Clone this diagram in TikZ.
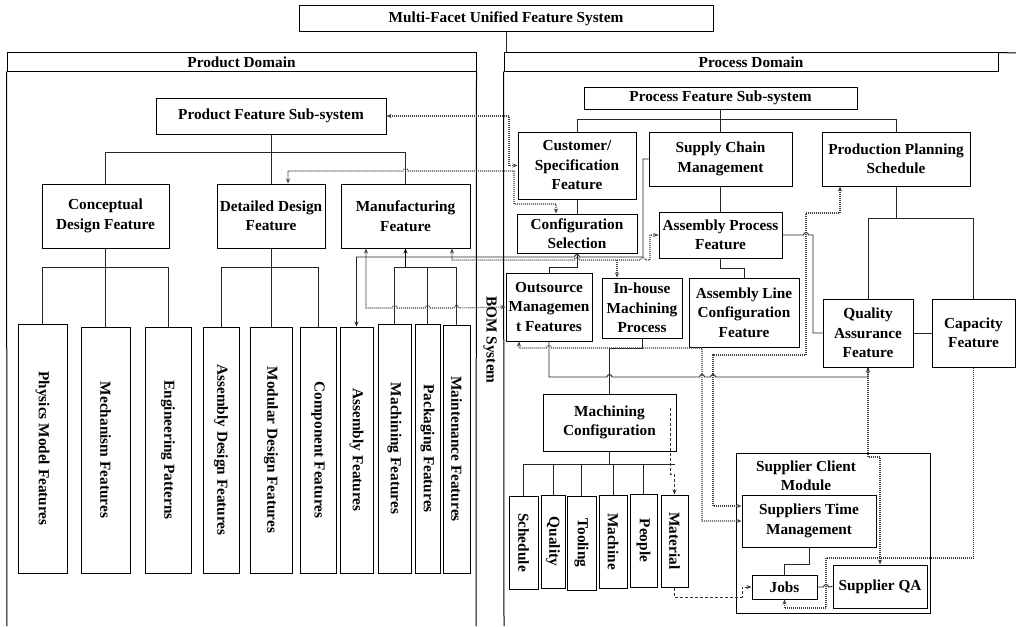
\documentclass[tikz,border=0pt]{standalone}
\usepackage{fontspec}
\setmainfont{Liberation Serif}
\usetikzlibrary{arrows.meta,calc}

% box by its corners: [style] name, x1, y1, x2, y2, text
\newcommand\bx[7][]{%
  \pgfmathsetmacro\bxcx{(#3+#5)/2}%
  \pgfmathsetmacro\bxcy{(#4+#6)/2}%
  \pgfmathsetmacro\bxw{#5-#3}%
  \pgfmathsetmacro\bxh{#6-#4}%
  \node[box,minimum width=\bxw pt,minimum height=\bxh pt,#1] (#2) at (\bxcx,\bxcy) {#7};}
% upright box with text running downwards: name, x1, y1, x2, y2, text
\newcommand\vbx[6]{%
  \pgfmathsetmacro\bxcx{(#2+#4)/2}%
  \pgfmathsetmacro\bxcy{(#3+#5)/2}%
  \pgfmathsetmacro\bxw{#4-#2}%
  \pgfmathsetmacro\bxh{#5-#3}%
  \node[box,rotate=-90,minimum width=\bxh pt,minimum height=\bxw pt] (#1) at (\bxcx,\bxcy) {#6};}
% line jumps over a crossing line
\newcommand\hopr[2]{-- ({#1-2.5},#2) arc[start angle=180,end angle=0,radius=2.5pt]}
\newcommand\hopl[2]{-- ({#1+2.5},#2) arc[start angle=0,end angle=180,radius=2.5pt]}

\begin{document}
\begin{tikzpicture}[x=1pt,y=-1pt,
  box/.style={draw=black,line width=1pt,align=center,inner sep=0pt,
    font=\bfseries\fontsize{15.3}{19.5}\selectfont,text=black},
  ln/.style={draw=black!85,line width=0.9pt},
  thk/.style={draw=black,line width=1.6pt},
  dl/.style={draw=black!75,line width=1.1pt,dash pattern=on 1pt off 1pt},
  dsh/.style={draw=black!80,line width=0.9pt,dash pattern=on 3pt off 2pt},
  >={Stealth[length=5pt,width=4pt]}]
\useasboundingbox (0,0) rectangle (1016,626);
\fill[white] (0,0) rectangle (1016,626);

% ---------- top level ----------
\bx{ttl}{299}{6}{713}{32}{Multi-Facet Unified Feature System}
\bx{pdh}{7}{53}{476}{71}{Product Domain}
\bx{prh}{504}{53}{998}{71}{Process Domain}
\draw[ln] (ttl.south) -- (ttl.south |- prh.north);
\draw[box] (prh.north east) -- (1016,53);
\draw[box] (pdh.south west) -- (7,626);
\draw[box] (pdh.south east) -- (476,626);
\draw[box] (prh.south west) -- (504,626);
\node[box,draw=none,rotate=-90] (bom) at (490,340) {BOM System};

% ---------- product domain ----------
\bx{pfs}{156}{98}{386}{134}{Product Feature Sub-system}
\bx{cdf}{42}{184}{169}{248}{Conceptual\\Design Feature}
\bx{ddf}{217}{184}{325}{248}{Detailed Design\\Feature}
\bx{mfg}{341}{184}{470}{248}{Manufacturing\\Feature}

\vbx{pmf}{18}{324}{67}{573}{Physics Model Features}
\vbx{mef}{81}{327}{130}{573}{Mechanism Features}
\vbx{enp}{145}{327}{191}{573}{Engineering Patterns}
\vbx{adf}{203}{327}{239}{573}{Assembly Design Features}
\vbx{mdf}{250}{327}{292}{573}{Modular Design Features}
\vbx{cmf}{300}{327}{336}{573}{Component Features}
\vbx{asf}{340}{327}{373}{573}{Assembly Features}
\vbx{maf}{378}{324}{411}{573}{Machining Features}
\vbx{pkf}{415}{324}{440}{573}{Packaging Features}
\vbx{mtf}{443}{325}{470}{573}{Maintenance Features}

\draw[ln] (pfs.south) -- ++(0,18) coordinate (pb);
\draw[ln] (cdf.north) |- (pb) -| (mfg.north);
\draw[ln] (ddf.north) -- (pb);

\draw[ln] (cdf.south) -- ++(0,19) coordinate (cb);
\draw[ln] (pmf.west) |- (cb) -| (enp.west);
\draw[ln] (mef.west) -- (mef.west |- cb);

\draw[ln] (ddf.south) -- ++(0,19) coordinate (db);
\draw[ln] (adf.west) |- (db) -| (cmf.west);
\draw[ln] (mdf.west) -- (mdf.west |- db);

\draw[thk,->] ($(mfg.south)+(0,19)$) coordinate (mb) -- (mfg.south);
\draw[ln] (maf.west) |- (mb) -| (mtf.west);
\draw[ln] (pkf.west) -- (pkf.west |- mb);

% ---------- process domain ----------
\bx{prfs}{584}{87}{857}{109}{Process Feature Sub-system}
\bx{csf}{518}{132}{636}{199}{Customer/\\Specification\\Feature}
\bx{scm}{649}{132}{792}{186}{Supply Chain\\Management}
\bx{pps}{822}{132}{970}{186}{Production Planning\\Schedule}
\bx{cfs}{517}{214}{637}{253}{Configuration\\Selection}
\bx{apf}{659}{212}{782}{258}{Assembly Process\\Feature}
\bx{omf}{506}{273}{592}{341}{Outsource\\Managemen\\t Features}
\bx{imp}{602}{278}{682}{338}{In-house\\Machining\\Process}
\bx{alc}{689}{278}{799}{347}{Assembly Line\\Configuration\\Feature}
\bx{qaf}{823}{299}{913}{367}{Quality\\Assurance\\Feature}
\bx{cpf}{932}{299}{1015}{367}{Capacity\\Feature}
\bx{mcf}{543}{394}{676}{451}{Machining\\Configuration}

\vbx{sch}{509}{496}{538}{589}{Schedule}
\vbx{qua}{541}{495}{565}{588}{Quality}
\vbx{too}{567}{496}{596}{590}{Tooling}
\vbx{mac}{599}{495}{627}{588}{Machine}
\vbx{peo}{630}{494}{657}{587}{People}
\vbx{mat}{661}{495}{688}{587}{Material}

\bx{scmod}{736}{453}{930}{613}{}
\node[box,draw=none] (scmt) at (806,476) {Supplier Client\\Module};
\bx{stm}{742}{495}{876}{547}{Suppliers Time\\Management}
\bx{job}{752}{575}{817}{599}{Jobs}
\bx{sqa}{833}{565}{927}{608}{Supplier QA}

% process tree
\draw[ln] (prfs.south) -- ++(0,10) coordinate (prb);
\draw[ln] (csf.north) |- (prb) -| (pps.north);
\draw[ln] (scm.north) -- (scm.north |- prb);
\draw[ln] (csf.south) -- (cfs.north);
\draw[ln] (scm.south) -- (apf.north);
\draw[ln] (cfs.south) -- (577,267) -| (omf.north);
\draw[ln] (apf.south) -- (720.5,268) -| (alc.north);
\draw[ln] (pps.south) -- (896,218);
\draw[ln] (qaf.north) |- (cpf.north |- 0,218) -- (cpf.north);
\draw[ln] (qaf.east) -- (cpf.west);
\draw[ln] (apf.east) \hopr{806}{235} -- (813,235) -- (813,333) -- (qaf.west);
\draw[ln,->] (omf.south) -- (549,377) \hopr{609.5}{377} \hopr{702}{377} \hopr{713}{377}
  -- (qaf.south |- 0,377) -- (qaf.south);
\draw[ln] (imp.south) -- (642,348) -- (609.5,348) -- (mcf.north);

% machining configuration tree
\draw[ln] (mcf.south) -- ++(0,13) coordinate (mcb);
\draw[ln] (sch.west) |- (674.5,464);
\foreach \c in {qua,too,mac,peo} \draw[ln] (\c.west) -- (\c.west |- mcb);
\draw[dsh,->] (670,408) -- (670,474) -| (mat.west);
\draw[dsh,->] (mat.east) -- (674.5,597) -- (742,597) -- (742,587) -- (job.west);

% supplier client module
\draw[ln] (stm.south) -- (809,564) -| (job.north);
\draw[ln] (job.east) \hopr{826}{587} -- (sqa.west);

% ---------- links between the domains ----------
\draw[ln,->] (scm.west) -- (643,159) -- (643,257) \hopl{577}{257} -- (asf.west |- 0,257) -- (asf.west);
\draw[dl,<->] (pfs.east) -- (509,116) |- (csf.west);
\draw[dl,<->] ([xshift=17pt]ddf.north) -- (288,171) \hopr{405.5}{171} -- (514,171) -- (514,204)
  -- (556,204) -- ([xshift=-21pt]cfs.north);
\draw[dl,<->] ([xshift=46.5pt]mfg.south) -- (452,260) \hopr{577}{260} \hopr{643}{260} -- (650,260)
  -- (650,235) -- (apf.west);
\draw[dl,->] (617,260) -- (imp.north -| 617,0);
\draw[dl,<->] ([xshift=-39.5pt]mfg.south) -- (366,308) \hopr{394.5}{308} \hopr{427.5}{308}
  \hopr{456.5}{308} -- (omf.west);
\draw[dl,<->] ([xshift=-30pt]omf.south) -- (519,348) \hopr{549}{348} -- (702,348) -- (702,521) -- (stm.west);
\draw[dl,<->] ([xshift=-56pt]pps.south) -- (840,213) -- (806,213) -- (806,355) -- (713,355)
  -- (713,506) -- ([yshift=15pt]stm.west);
\draw[dl,->] (qaf.south) -- (868,457) -- (880,457) -- (sqa.north);
\draw[dl,->] (cpf.south) -- (973.5,558) -- (826,558) -- (826,608) -- (784.5,608) -- (job.south);
\end{tikzpicture}
\end{document}
